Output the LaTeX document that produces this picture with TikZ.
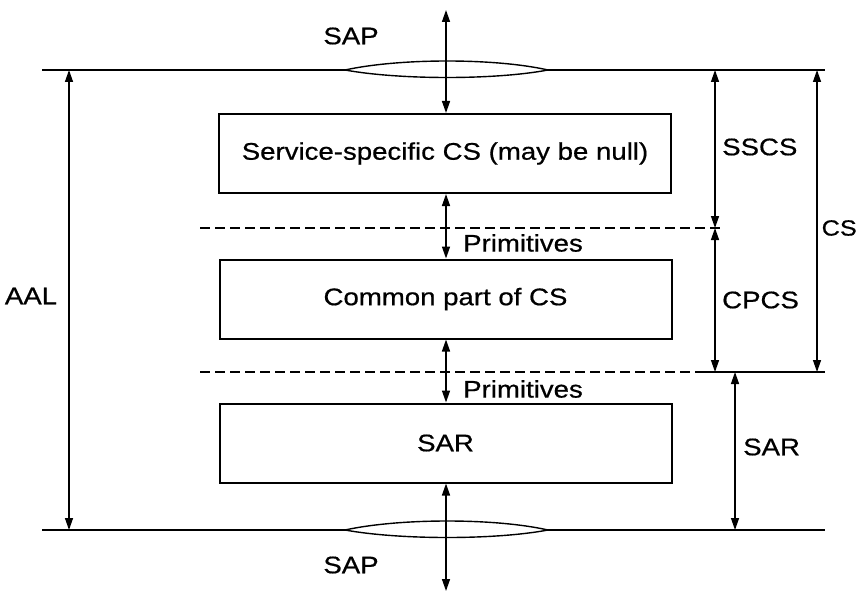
\documentclass[tikz,border=0pt]{standalone}
\usepackage{fontspec}
\setmainfont[FakeStretch=1.15,FakeBold=0.6]{Liberation Sans}
\usetikzlibrary{arrows.meta}
\begin{document}
\begin{tikzpicture}[x=1pt,y=-1pt,
  txt/.style={font=\fontsize{24}{28}\selectfont, inner sep=0pt},
  layerbox/.style={draw, line width=2pt, minimum width=452pt, minimum height=79pt, inner sep=0pt, font=\fontsize{24}{28}\selectfont},
  rule/.style={line width=1.4pt},
  dimarrow/.style={line width=1.4pt, {Triangle[length=12pt,width=8pt]}-{Triangle[length=12pt,width=8pt]}},
  dashline/.style={line width=1.6pt, dash pattern=on 10pt off 5pt}]
\useasboundingbox (0,0) rectangle (858,596);
% boxes
\node[layerbox] (ss) at (445,153.5) {Service-specific CS (may be null)};
\node[layerbox] (cp) at (445.5,299) {Common part of CS};
\node[layerbox] (sr) at (445.5,443) {SAR};
% coordinates
\coordinate (tl) at (42,70);
\coordinate (tr) at (825,70);
\coordinate (bl) at (42,530);
\coordinate (br) at (825,530);
\coordinate (tlensl) at (345,70);
\coordinate (tlensr) at (548,70);
\coordinate (blensl) at (345,530);
\coordinate (blensr) at (548,530);
\coordinate (d1l) at (200,228);
\coordinate (d1r) at (722,228);
\coordinate (d2l) at (200,372);
\coordinate (d2m) at (700,372);
\coordinate (d2r) at (825,372);
\coordinate (topend) at (446,10);
\coordinate (botend) at (446,591);
% horizontal rules
\draw[rule] (tl) -- (tlensl);
\draw[rule] (tlensr) -- (tr);
\draw[rule] (bl) -- (blensl);
\draw[rule] (blensr) -- (br);
\draw[rule] (tlensl) .. controls (400,58) and (495,58) .. (tlensr);
\draw[rule] (tlensl) .. controls (400,80) and (495,80) .. (tlensr);
\draw[rule] (blensl) .. controls (400,518) and (495,518) .. (blensr);
\draw[rule] (blensl) .. controls (400,540) and (495,540) .. (blensr);
\draw[dashline] (d1l) -- (d1r);
\draw[dashline] (d2l) -- (d2m);
\draw[rule] (d2m) -- (d2r);
% vertical arrows through stack
\draw[dimarrow] (topend) -- (ss.north -| topend);
\draw[dimarrow] (ss.south -| topend) -- (cp.north -| topend);
\draw[dimarrow] (cp.south -| topend) -- (sr.north -| topend);
\draw[dimarrow] (sr.south -| topend) -- (botend);
% dimension arrows
\coordinate (aalx) at (69,0);
\coordinate (sscsx) at (715,0);
\coordinate (csx) at (817,0);
\coordinate (sarx) at (735,0);
\draw[dimarrow] (tl -| aalx) -- (bl -| aalx);
\draw[dimarrow] (tl -| sscsx) -- (d1r -| sscsx);
\draw[dimarrow] (d1r -| sscsx) -- (d2r -| sscsx);
\draw[dimarrow] (tr -| csx) -- (d2r -| csx);
\draw[dimarrow] (d2r -| sarx) -- (br -| sarx);
% labels
\node[txt] (sapt) at (351,36) {SAP};
\node[txt] (sapb) at (351,565) {SAP};
\node[txt] (aal) at (31,296) {AAL};
\node[txt, anchor=west] (lsscs) at (722,147) {SSCS};
\node[txt, anchor=west] (lcpcs) at (722,300) {CPCS};
\node[txt, anchor=east, font=\fontsize{22}{26}\selectfont] (lcs) at (857,228) {CS};
\node[txt, anchor=west] (lsar) at (743,447) {SAR};
\node[txt, anchor=west] (prim1) at (463,243) {Primitives};
\node[txt, anchor=west] (prim2) at (463,389) {Primitives};
\end{tikzpicture}
\end{document}
